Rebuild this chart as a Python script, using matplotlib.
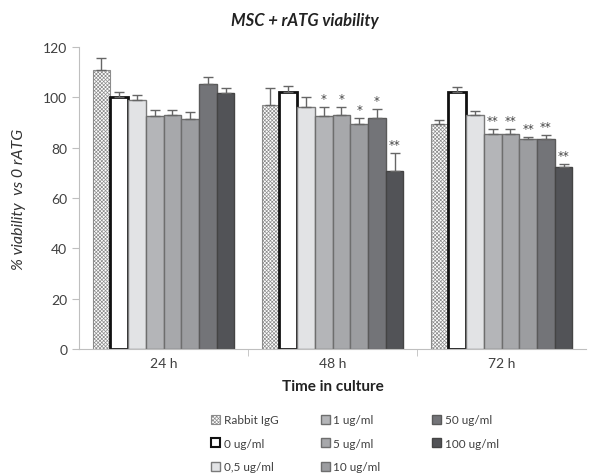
import matplotlib
matplotlib.use('Agg')
import matplotlib.pyplot as plt
import matplotlib.patches as mpatches
import numpy as np

plt.rcParams['font.family'] = ['Lato', 'DejaVu Sans']
plt.rcParams['hatch.color'] = '#8c8c8c'
plt.rcParams['hatch.linewidth'] = 0.5

# данные
times = ['24 h', '48 h', '72 h']
doses = ['Rabbit IgG', '0 ug/ml', '0,5 ug/ml', '1 ug/ml', '5 ug/ml',
         '10 ug/ml', '50 ug/ml', '100 ug/ml']
means_24 = [111.0, 100.0, 98.9, 92.4, 93.0, 91.4, 105.2, 101.7]
means_48 = [96.9, 102.2, 96.0, 92.4, 92.9, 89.4, 91.9, 70.8]
means_72 = [89.4, 102.0, 93.0, 85.4, 85.4, 83.4, 83.4, 72.4]
err_24 = [4.7, 2.0, 2.1, 2.7, 2.1, 2.6, 3.0, 1.9]
err_48 = [6.7, 2.4, 4.1, 3.7, 3.2, 2.5, 3.3, 7.0]
err_72 = [1.7, 2.0, 1.7, 2.0, 2.0, 0.9, 1.6, 1.0]
stars_24 = ['', '', '', '', '', '', '', '']
stars_48 = ['', '', '', '*', '*', '*', '*', '**']
stars_72 = ['', '', '', '**', '**', '**', '**', '**']

means = np.array([means_24, means_48, means_72])
errs = np.array([err_24, err_48, err_72])
stars = [stars_24, stars_48, stars_72]

face = ['white', 'white', '#e2e3e5', '#b4b5b8', '#a7a8ab', '#9c9da0', '#737478', '#525357']
edge = ['#8c8c8c', '#111111', '#7a7a7a', '#6e6e6e', '#6e6e6e', '#6e6e6e', '#5a5a5a', '#444444']
lw = [0.8, 2.0, 1.0, 1.0, 1.0, 1.0, 1.0, 1.0]
hatch = ['xxxxxxxxx', None, None, None, None, None, None, None]

fig = plt.figure(figsize=(6.14, 4.77), dpi=100, facecolor='white')
ax = fig.add_axes([0.1287, 0.2662, 0.8257, 0.6332])

x = np.arange(len(times))
width = 0.105
for j in range(len(doses)):
    pos = x + (j - 3.5) * width
    ax.bar(pos, means[:, j], width, color=face[j], edgecolor=edge[j],
           linewidth=lw[j], hatch=hatch[j], zorder=2, label=doses[j])
    ax.errorbar(pos, means[:, j], yerr=[np.zeros(3), errs[:, j]], fmt='none',
                ecolor='#666666', elinewidth=1.0, capsize=3.5, capthick=1.0, zorder=3)
    for i in range(len(times)):
        if stars[i][j]:
            ax.text(pos[i], means[i, j] + errs[i, j] + 0.8, stars[i][j],
                    ha='center', va='bottom', fontsize=8.5, color='#444444',
                    family='DejaVu Sans', fontstyle='italic')

ax.set_xlim(-0.5, 2.5)
ax.set_ylim(0, 120)
ax.set_yticks(np.arange(0, 121, 20))
ax.set_xticks(x)
ax.set_xticklabels(times, fontsize=10, color='#404040')
ax.set_xticks([0.5, 1.5], minor=True)
ax.tick_params(axis='x', which='major', length=0, pad=6)
ax.tick_params(axis='x', which='minor', length=5, color='#bfbfbf', direction='out')
ax.tick_params(axis='y', labelsize=10, labelcolor='#404040', color='#bfbfbf',
               length=5, direction='out')
ax.spines[['top', 'right']].set_visible(False)
ax.spines['left'].set_color('#bfbfbf')
ax.spines['bottom'].set_color('#bfbfbf')

ax.set_xlabel('Time in culture', fontsize=11, fontweight='bold', color='#222222', labelpad=7)
ax.set_ylabel('% viability  vs 0 rATG', fontsize=11.5, fontstyle='italic',
              color='#333333', labelpad=12)
fig.text(0.497, 0.955, 'MSC + rATG viability', ha='center', va='center',
         fontsize=12, fontweight='bold', fontstyle='italic', color='#222222')

handles = [mpatches.Patch(facecolor=face[j], edgecolor=edge[j],
                          linewidth=min(lw[j], 1.5), hatch=hatch[j], label=doses[j])
           for j in range(len(doses))]
# три колонки легенды, каждая отдельно
col_groups = [handles[0:3], handles[3:6], handles[6:8]]
col_x = [0.343, 0.522, 0.703]
for hs, cx in zip(col_groups, col_x):
    fig.legend(handles=hs, loc='upper left', bbox_to_anchor=(cx, 0.129),
               ncol=1, frameon=False, fontsize=8.5, labelcolor='#404040',
               handlelength=0.8, handleheight=0.8, handletextpad=0.3,
               labelspacing=1.05, borderaxespad=0, borderpad=0)

plt.savefig('out.png', dpi=100, facecolor='white')
plt.close()
